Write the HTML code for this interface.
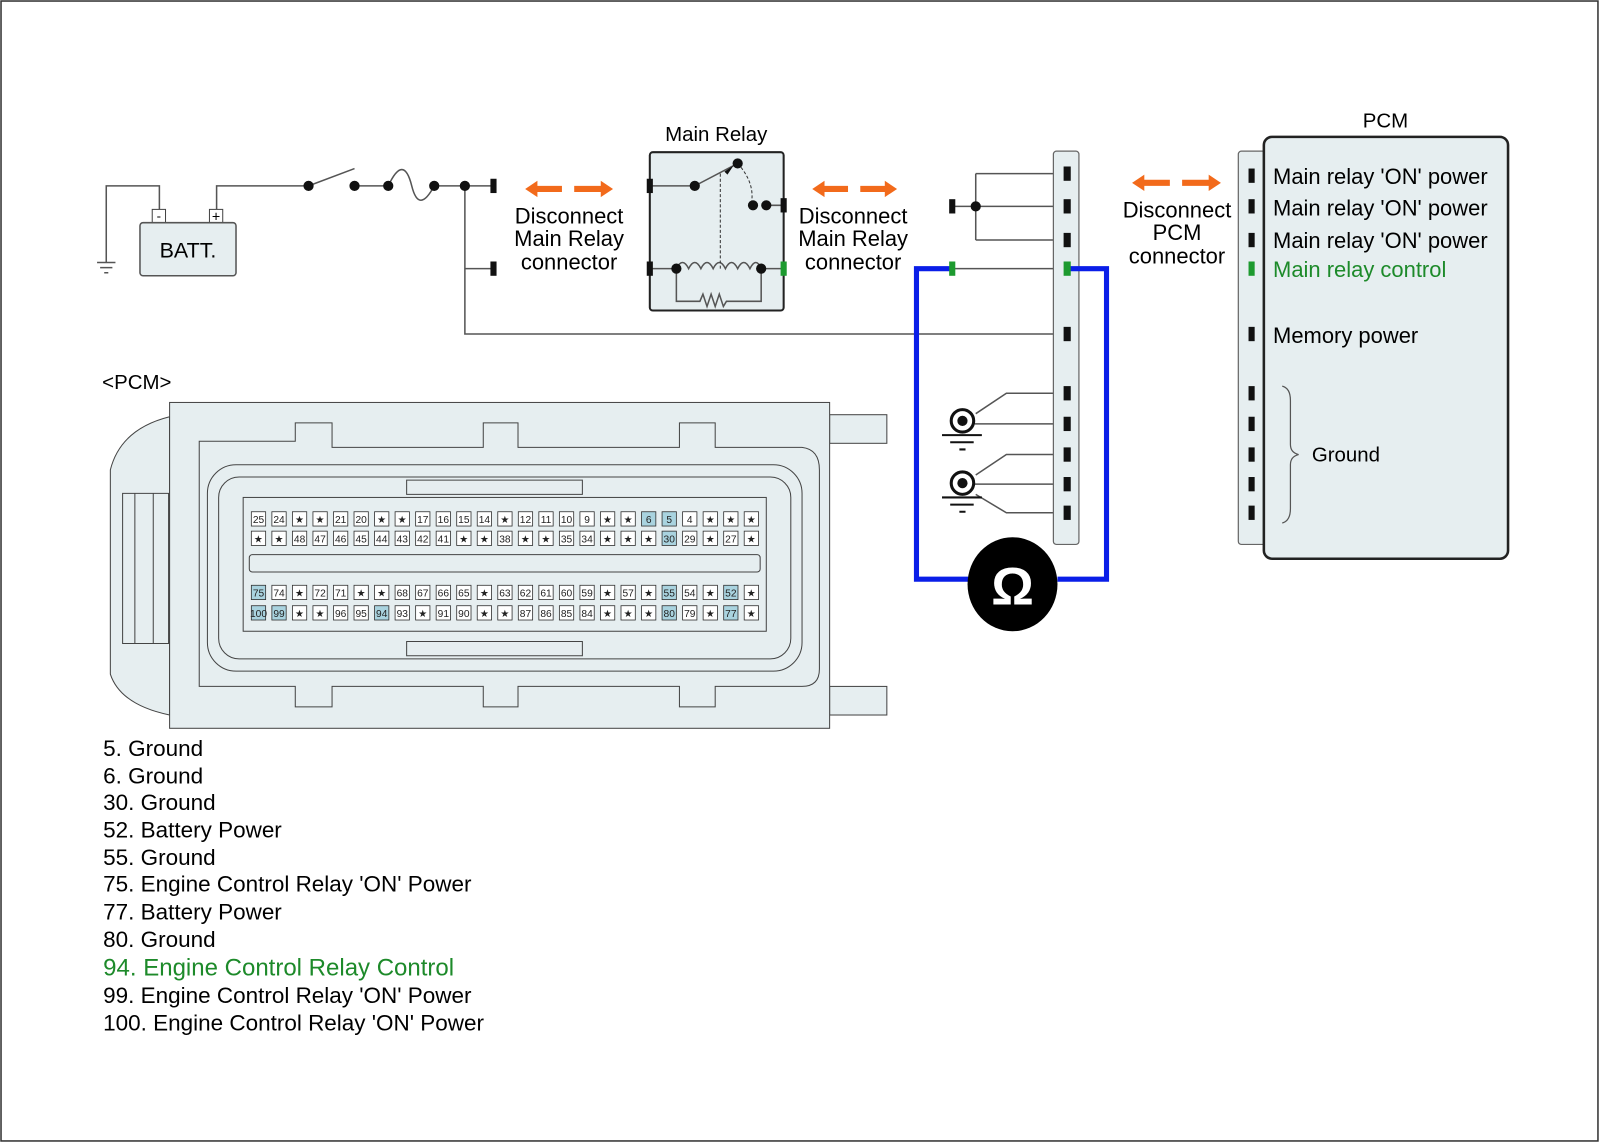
<!DOCTYPE html>
<html><head><meta charset="utf-8"><style>
html,body{margin:0;padding:0;background:#fff}
svg{display:block}
text{font-family:"Liberation Sans",sans-serif}
.p rect{fill:#fff;stroke:#333;stroke-width:0.8}
.p text{font-size:10px;text-anchor:middle;fill:#222}
.h rect{fill:#a9d3df}
</style></head><body>
<svg width="1600" height="1143" viewBox="0 0 1566 1119" preserveAspectRatio="none" xmlns="http://www.w3.org/2000/svg">
<rect x="1" y="1" width="1563" height="1116" fill="#fff" stroke="#333" stroke-width="1.5"/>
<g fill="none" stroke="#555" stroke-width="1.5">
<path d="M104,257 V182 H156 V205"/>
<path d="M212,205 V182 H302"/>
<path d="M302,182 L347,165"/>
<path d="M347,182 H380 Q395,150 403,182 Q410,210 425,182 H482"/>
<path d="M455,182 V327 H1044"/>
<path d="M455,263 H482"/>
<path d="M932,202 H1044 M955,170 V235 M955,170 H1044 M955,235 H1044"/>
<path d="M932,263 H1044"/>
<path d="M955,405 L985,385 H1044 M954,415 H1044"/>
<path d="M955,465 L985,445 H1044 M954,474 H1044 M955,484 L985,502 H1044"/>
</g>
<path d="M95,257 H113 M98,262 H110 M102,267 H106" stroke="#555" stroke-width="1.5"/>
<rect x="149" y="205" width="13" height="13" fill="#fff" stroke="#444"/><text x="155.5" y="216" font-size="13" text-anchor="middle">-</text>
<rect x="205" y="205" width="13" height="13" fill="#fff" stroke="#444"/><text x="211.5" y="217" font-size="14" text-anchor="middle">+</text>
<rect x="137" y="218" width="94" height="52" rx="3" fill="#e6eef0" stroke="#555" stroke-width="1.5"/>
<text x="184" y="252" font-size="21" text-anchor="middle">BATT.</text>
<g fill="#111"><circle cx="302" cy="182" r="5"/><circle cx="347" cy="182" r="5"/><circle cx="380" cy="182" r="5"/><circle cx="425" cy="182" r="5"/><circle cx="455" cy="182" r="5"/>
<rect x="480" y="175" width="6" height="14"/><rect x="480" y="256" width="6" height="14"/></g>
<rect x="636" y="149" width="131" height="155" rx="3" fill="#e6eef0" stroke="#222" stroke-width="2"/>
<text x="701" y="138" font-size="20" text-anchor="middle">Main Relay</text>
<g fill="none" stroke="#555" stroke-width="1.5">
<path d="M636,182 H680 L722,160"/>
<path d="M750,201 H767"/>
<path d="M636,263 H662"/>
<path d="M662,263 q6,-12 12,0 q6,-12 12,0 q6,-12 12,0 q6,-12 12,0 q6,-12 12,0 q6,-12 12,0 q6,-12 11,0 H767"/>
<path d="M662,263 V295 H685 l3,-7 4,12 4,-12 4,12 4,-12 4,12 3,-5 H745 V263"/>
</g>
<path d="M705,170 V263 M722,160 Q740,180 735,201" fill="none" stroke="#333" stroke-width="1" stroke-dasharray="3,2"/>
<g fill="#111"><rect x="633" y="175" width="6" height="14"/><rect x="633" y="256" width="6" height="14"/><rect x="764" y="194" width="6" height="14"/>
<circle cx="680" cy="182" r="5"/><circle cx="722" cy="160" r="5"/><circle cx="750" cy="201" r="5"/><circle cx="737" cy="201" r="5"/><circle cx="662" cy="263" r="5"/><circle cx="745" cy="263" r="5"/></g>
<path d="M709,168 L718,162 L712,171Z" fill="#111"/>
<rect x="764" y="256" width="6" height="14" fill="#1d9a2f"/>
<g fill="#f26a1b">
<path d="M514,185 l12,-8 v5 h24 v6 h-24 v5z"/><path d="M600,185 l-12,-8 v5 h-26 v6 h26 v5z"/>
<path d="M795,185 l12,-8 v5 h23 v6 h-23 v5z"/><path d="M878,185 l-12,-8 v5 h-24 v6 h24 v5z"/>
<path d="M1108,179 l12,-8 v5 h25 v6 h-25 v5z"/><path d="M1195,179 l-12,-8 v5 h-26 v6 h26 v5z"/>
</g>
<g font-size="21.5" text-anchor="middle">
<text x="557" y="219">Disconnect</text><text x="557" y="241">Main Relay</text><text x="557" y="264">connector</text>
<text x="835" y="219">Disconnect</text><text x="835" y="241">Main Relay</text><text x="835" y="264">connector</text>
<text x="1152" y="213">Disconnect</text><text x="1152" y="235">PCM</text><text x="1152" y="258">connector</text>
</g>
<rect x="1031" y="148" width="25" height="385" rx="3" fill="#e6eef0" stroke="#666" stroke-width="1.2"/>
<path d="M932,263 H897 V567 H950 M1035,567 H1083 V263 H1044" fill="none" stroke="#0a1ee8" stroke-width="5"/>
<g fill="#111"><rect x="929" y="195" width="6" height="14"/>
<circle cx="955" cy="202" r="5"/>
<rect x="1041" y="163" width="7" height="14"/><rect x="1041" y="195" width="7" height="14"/><rect x="1041" y="228" width="7" height="14"/><rect x="1041" y="320" width="7" height="14"/>
<rect x="1041" y="378" width="7" height="14"/><rect x="1041" y="408" width="7" height="14"/><rect x="1041" y="438" width="7" height="14"/><rect x="1041" y="467" width="7" height="14"/><rect x="1041" y="495" width="7" height="14"/></g>
<rect x="929" y="256" width="6" height="14" fill="#1d9a2f"/><rect x="1041" y="256" width="7" height="14" fill="#1d9a2f"/>
<g fill="none" stroke="#111" stroke-width="3"><circle cx="942" cy="412" r="11"/><circle cx="942" cy="473" r="11"/></g>
<g fill="#111"><circle cx="942" cy="412" r="5"/><circle cx="942" cy="473" r="5"/></g>
<path d="M922,426 H961 M930,433 H953 M939,440 H945 M922,487 H961 M930,494 H953 M939,501 H945" stroke="#111" stroke-width="2"/>
<ellipse cx="991" cy="572" rx="44" ry="46" fill="#000"/>
<text x="991" y="592" font-size="52" font-weight="bold" fill="#fff" text-anchor="middle">Ω</text>
<rect x="1212" y="148" width="30" height="385" rx="3" fill="#e6eef0" stroke="#666" stroke-width="1.2"/>
<rect x="1237" y="134" width="239" height="413" rx="8" fill="#e6eef0" stroke="#222" stroke-width="2.5"/>
<path d="M1255,378 q8,2 8,14 V435 q0,8 8,10 q-8,2 -8,10 V498 q0,12 -8,14" fill="none" stroke="#555" stroke-width="1.2"/>
<text x="1356" y="125" font-size="20" text-anchor="middle">PCM</text>
<g fill="#111"><rect x="1222" y="165" width="6" height="14"/><rect x="1222" y="195" width="6" height="14"/><rect x="1222" y="228" width="6" height="14"/><rect x="1222" y="320" width="6" height="14"/>
<rect x="1222" y="378" width="6" height="14"/><rect x="1222" y="408" width="6" height="14"/><rect x="1222" y="438" width="6" height="14"/><rect x="1222" y="467" width="6" height="14"/><rect x="1222" y="495" width="6" height="14"/></g>
<rect x="1222" y="256" width="6" height="14" fill="#1d9a2f"/>
<g font-size="21.5"><text x="1246" y="180">Main relay 'ON' power</text><text x="1246" y="211">Main relay 'ON' power</text><text x="1246" y="243">Main relay 'ON' power</text>
<text x="1246" y="271" fill="#1d8a2a">Main relay control</text><text x="1246" y="336">Memory power</text></g>
<text x="1284" y="452" font-size="20">Ground</text>
<text x="100" y="381" font-size="20">&lt;PCM&gt;</text>
<!-- connector housing -->
<g fill="#e6eef0" stroke="#444" stroke-width="1">
<path d="M166,408 Q118,420 108,460 V660 Q118,690 166,700Z"/>
<path d="M120,483 H165 V630 H120Z M132,483 V630 M150,483 V630" fill="none"/>
<rect x="812" y="406" width="56" height="28"/><rect x="812" y="672" width="56" height="28"/>
<rect x="166" y="394" width="646" height="319"/>
<path d="M195,432 H289 V414 H325 V438 H473 V414 H507 V438 H665 V414 H700 V438 H785 Q802,440 802,460 V655 Q802,672 785,672 H700 V692 H665 V672 H507 V692 H473 V672 H325 V692 H289 V672 H195 Z"/>
<rect x="203" y="455" width="582" height="202" rx="28"/>
<rect x="214" y="467" width="560" height="178" rx="20"/>
<rect x="238" y="487" width="512" height="131"/>
<path d="M398,470 H570 V484 H398Z M398,628 H570 V642 H398Z" fill="#e6eef0"/>
<rect x="244" y="543" width="500" height="17" rx="3"/>
</g>
<g class="p">
<g transform="translate(253,508)"><rect x="-7" y="-7" width="14" height="14"/><text y="4">25</text></g>
<g transform="translate(273.1,508)"><rect x="-7" y="-7" width="14" height="14"/><text y="4">24</text></g>
<g transform="translate(293.2,508)"><rect x="-7" y="-7" width="14" height="14"/><text y="4">★</text></g>
<g transform="translate(313.3,508)"><rect x="-7" y="-7" width="14" height="14"/><text y="4">★</text></g>
<g transform="translate(333.4,508)"><rect x="-7" y="-7" width="14" height="14"/><text y="4">21</text></g>
<g transform="translate(353.5,508)"><rect x="-7" y="-7" width="14" height="14"/><text y="4">20</text></g>
<g transform="translate(373.6,508)"><rect x="-7" y="-7" width="14" height="14"/><text y="4">★</text></g>
<g transform="translate(393.7,508)"><rect x="-7" y="-7" width="14" height="14"/><text y="4">★</text></g>
<g transform="translate(413.8,508)"><rect x="-7" y="-7" width="14" height="14"/><text y="4">17</text></g>
<g transform="translate(433.9,508)"><rect x="-7" y="-7" width="14" height="14"/><text y="4">16</text></g>
<g transform="translate(454,508)"><rect x="-7" y="-7" width="14" height="14"/><text y="4">15</text></g>
<g transform="translate(474.1,508)"><rect x="-7" y="-7" width="14" height="14"/><text y="4">14</text></g>
<g transform="translate(494.2,508)"><rect x="-7" y="-7" width="14" height="14"/><text y="4">★</text></g>
<g transform="translate(514.3,508)"><rect x="-7" y="-7" width="14" height="14"/><text y="4">12</text></g>
<g transform="translate(534.4,508)"><rect x="-7" y="-7" width="14" height="14"/><text y="4">11</text></g>
<g transform="translate(554.5,508)"><rect x="-7" y="-7" width="14" height="14"/><text y="4">10</text></g>
<g transform="translate(574.6,508)"><rect x="-7" y="-7" width="14" height="14"/><text y="4">9</text></g>
<g transform="translate(594.7,508)"><rect x="-7" y="-7" width="14" height="14"/><text y="4">★</text></g>
<g transform="translate(614.8,508)"><rect x="-7" y="-7" width="14" height="14"/><text y="4">★</text></g>
<g class="h" transform="translate(634.9,508)"><rect x="-7" y="-7" width="14" height="14"/><text y="4">6</text></g>
<g class="h" transform="translate(655,508)"><rect x="-7" y="-7" width="14" height="14"/><text y="4">5</text></g>
<g transform="translate(675.1,508)"><rect x="-7" y="-7" width="14" height="14"/><text y="4">4</text></g>
<g transform="translate(695.2,508)"><rect x="-7" y="-7" width="14" height="14"/><text y="4">★</text></g>
<g transform="translate(715.3,508)"><rect x="-7" y="-7" width="14" height="14"/><text y="4">★</text></g>
<g transform="translate(735.4,508)"><rect x="-7" y="-7" width="14" height="14"/><text y="4">★</text></g>

<g transform="translate(253,527)"><rect x="-7" y="-7" width="14" height="14"/><text y="4">★</text></g>
<g transform="translate(273.1,527)"><rect x="-7" y="-7" width="14" height="14"/><text y="4">★</text></g>
<g transform="translate(293.2,527)"><rect x="-7" y="-7" width="14" height="14"/><text y="4">48</text></g>
<g transform="translate(313.3,527)"><rect x="-7" y="-7" width="14" height="14"/><text y="4">47</text></g>
<g transform="translate(333.4,527)"><rect x="-7" y="-7" width="14" height="14"/><text y="4">46</text></g>
<g transform="translate(353.5,527)"><rect x="-7" y="-7" width="14" height="14"/><text y="4">45</text></g>
<g transform="translate(373.6,527)"><rect x="-7" y="-7" width="14" height="14"/><text y="4">44</text></g>
<g transform="translate(393.7,527)"><rect x="-7" y="-7" width="14" height="14"/><text y="4">43</text></g>
<g transform="translate(413.8,527)"><rect x="-7" y="-7" width="14" height="14"/><text y="4">42</text></g>
<g transform="translate(433.9,527)"><rect x="-7" y="-7" width="14" height="14"/><text y="4">41</text></g>
<g transform="translate(454,527)"><rect x="-7" y="-7" width="14" height="14"/><text y="4">★</text></g>
<g transform="translate(474.1,527)"><rect x="-7" y="-7" width="14" height="14"/><text y="4">★</text></g>
<g transform="translate(494.2,527)"><rect x="-7" y="-7" width="14" height="14"/><text y="4">38</text></g>
<g transform="translate(514.3,527)"><rect x="-7" y="-7" width="14" height="14"/><text y="4">★</text></g>
<g transform="translate(534.4,527)"><rect x="-7" y="-7" width="14" height="14"/><text y="4">★</text></g>
<g transform="translate(554.5,527)"><rect x="-7" y="-7" width="14" height="14"/><text y="4">35</text></g>
<g transform="translate(574.6,527)"><rect x="-7" y="-7" width="14" height="14"/><text y="4">34</text></g>
<g transform="translate(594.7,527)"><rect x="-7" y="-7" width="14" height="14"/><text y="4">★</text></g>
<g transform="translate(614.8,527)"><rect x="-7" y="-7" width="14" height="14"/><text y="4">★</text></g>
<g transform="translate(634.9,527)"><rect x="-7" y="-7" width="14" height="14"/><text y="4">★</text></g>
<g class="h" transform="translate(655,527)"><rect x="-7" y="-7" width="14" height="14"/><text y="4">30</text></g>
<g transform="translate(675.1,527)"><rect x="-7" y="-7" width="14" height="14"/><text y="4">29</text></g>
<g transform="translate(695.2,527)"><rect x="-7" y="-7" width="14" height="14"/><text y="4">★</text></g>
<g transform="translate(715.3,527)"><rect x="-7" y="-7" width="14" height="14"/><text y="4">27</text></g>
<g transform="translate(735.4,527)"><rect x="-7" y="-7" width="14" height="14"/><text y="4">★</text></g>

<g class="h" transform="translate(253,580)"><rect x="-7" y="-7" width="14" height="14"/><text y="4">75</text></g>
<g transform="translate(273.1,580)"><rect x="-7" y="-7" width="14" height="14"/><text y="4">74</text></g>
<g transform="translate(293.2,580)"><rect x="-7" y="-7" width="14" height="14"/><text y="4">★</text></g>
<g transform="translate(313.3,580)"><rect x="-7" y="-7" width="14" height="14"/><text y="4">72</text></g>
<g transform="translate(333.4,580)"><rect x="-7" y="-7" width="14" height="14"/><text y="4">71</text></g>
<g transform="translate(353.5,580)"><rect x="-7" y="-7" width="14" height="14"/><text y="4">★</text></g>
<g transform="translate(373.6,580)"><rect x="-7" y="-7" width="14" height="14"/><text y="4">★</text></g>
<g transform="translate(393.7,580)"><rect x="-7" y="-7" width="14" height="14"/><text y="4">68</text></g>
<g transform="translate(413.8,580)"><rect x="-7" y="-7" width="14" height="14"/><text y="4">67</text></g>
<g transform="translate(433.9,580)"><rect x="-7" y="-7" width="14" height="14"/><text y="4">66</text></g>
<g transform="translate(454,580)"><rect x="-7" y="-7" width="14" height="14"/><text y="4">65</text></g>
<g transform="translate(474.1,580)"><rect x="-7" y="-7" width="14" height="14"/><text y="4">★</text></g>
<g transform="translate(494.2,580)"><rect x="-7" y="-7" width="14" height="14"/><text y="4">63</text></g>
<g transform="translate(514.3,580)"><rect x="-7" y="-7" width="14" height="14"/><text y="4">62</text></g>
<g transform="translate(534.4,580)"><rect x="-7" y="-7" width="14" height="14"/><text y="4">61</text></g>
<g transform="translate(554.5,580)"><rect x="-7" y="-7" width="14" height="14"/><text y="4">60</text></g>
<g transform="translate(574.6,580)"><rect x="-7" y="-7" width="14" height="14"/><text y="4">59</text></g>
<g transform="translate(594.7,580)"><rect x="-7" y="-7" width="14" height="14"/><text y="4">★</text></g>
<g transform="translate(614.8,580)"><rect x="-7" y="-7" width="14" height="14"/><text y="4">57</text></g>
<g transform="translate(634.9,580)"><rect x="-7" y="-7" width="14" height="14"/><text y="4">★</text></g>
<g class="h" transform="translate(655,580)"><rect x="-7" y="-7" width="14" height="14"/><text y="4">55</text></g>
<g transform="translate(675.1,580)"><rect x="-7" y="-7" width="14" height="14"/><text y="4">54</text></g>
<g transform="translate(695.2,580)"><rect x="-7" y="-7" width="14" height="14"/><text y="4">★</text></g>
<g class="h" transform="translate(715.3,580)"><rect x="-7" y="-7" width="14" height="14"/><text y="4">52</text></g>
<g transform="translate(735.4,580)"><rect x="-7" y="-7" width="14" height="14"/><text y="4">★</text></g>

<g class="h" transform="translate(253,600)"><rect x="-7" y="-7" width="14" height="14"/><text y="4" font-size="8">100</text></g>
<g class="h" transform="translate(273.1,600)"><rect x="-7" y="-7" width="14" height="14"/><text y="4">99</text></g>
<g transform="translate(293.2,600)"><rect x="-7" y="-7" width="14" height="14"/><text y="4">★</text></g>
<g transform="translate(313.3,600)"><rect x="-7" y="-7" width="14" height="14"/><text y="4">★</text></g>
<g transform="translate(333.4,600)"><rect x="-7" y="-7" width="14" height="14"/><text y="4">96</text></g>
<g transform="translate(353.5,600)"><rect x="-7" y="-7" width="14" height="14"/><text y="4">95</text></g>
<g class="h" transform="translate(373.6,600)"><rect x="-7" y="-7" width="14" height="14"/><text y="4">94</text></g>
<g transform="translate(393.7,600)"><rect x="-7" y="-7" width="14" height="14"/><text y="4">93</text></g>
<g transform="translate(413.8,600)"><rect x="-7" y="-7" width="14" height="14"/><text y="4">★</text></g>
<g transform="translate(433.9,600)"><rect x="-7" y="-7" width="14" height="14"/><text y="4">91</text></g>
<g transform="translate(454,600)"><rect x="-7" y="-7" width="14" height="14"/><text y="4">90</text></g>
<g transform="translate(474.1,600)"><rect x="-7" y="-7" width="14" height="14"/><text y="4">★</text></g>
<g transform="translate(494.2,600)"><rect x="-7" y="-7" width="14" height="14"/><text y="4">★</text></g>
<g transform="translate(514.3,600)"><rect x="-7" y="-7" width="14" height="14"/><text y="4">87</text></g>
<g transform="translate(534.4,600)"><rect x="-7" y="-7" width="14" height="14"/><text y="4">86</text></g>
<g transform="translate(554.5,600)"><rect x="-7" y="-7" width="14" height="14"/><text y="4">85</text></g>
<g transform="translate(574.6,600)"><rect x="-7" y="-7" width="14" height="14"/><text y="4">84</text></g>
<g transform="translate(594.7,600)"><rect x="-7" y="-7" width="14" height="14"/><text y="4">★</text></g>
<g transform="translate(614.8,600)"><rect x="-7" y="-7" width="14" height="14"/><text y="4">★</text></g>
<g transform="translate(634.9,600)"><rect x="-7" y="-7" width="14" height="14"/><text y="4">★</text></g>
<g class="h" transform="translate(655,600)"><rect x="-7" y="-7" width="14" height="14"/><text y="4">80</text></g>
<g transform="translate(675.1,600)"><rect x="-7" y="-7" width="14" height="14"/><text y="4">79</text></g>
<g transform="translate(695.2,600)"><rect x="-7" y="-7" width="14" height="14"/><text y="4">★</text></g>
<g class="h" transform="translate(715.3,600)"><rect x="-7" y="-7" width="14" height="14"/><text y="4">77</text></g>
<g transform="translate(735.4,600)"><rect x="-7" y="-7" width="14" height="14"/><text y="4">★</text></g>
</g>
<g font-size="22">
<text x="101" y="740">5. Ground</text>
<text x="101" y="767">6. Ground</text>
<text x="101" y="793">30. Ground</text>
<text x="101" y="820">52. Battery Power</text>
<text x="101" y="847">55. Ground</text>
<text x="101" y="873">75. Engine Control Relay 'ON' Power</text>
<text x="101" y="900">77. Battery Power</text>
<text x="101" y="927">80. Ground</text>
<text x="101" y="955" fill="#1d8a2a" font-size="23.5">94. Engine Control Relay Control</text>
<text x="101" y="982">99. Engine Control Relay 'ON' Power</text>
<text x="101" y="1009">100. Engine Control Relay 'ON' Power</text>
</g>
</svg>
</body></html>
